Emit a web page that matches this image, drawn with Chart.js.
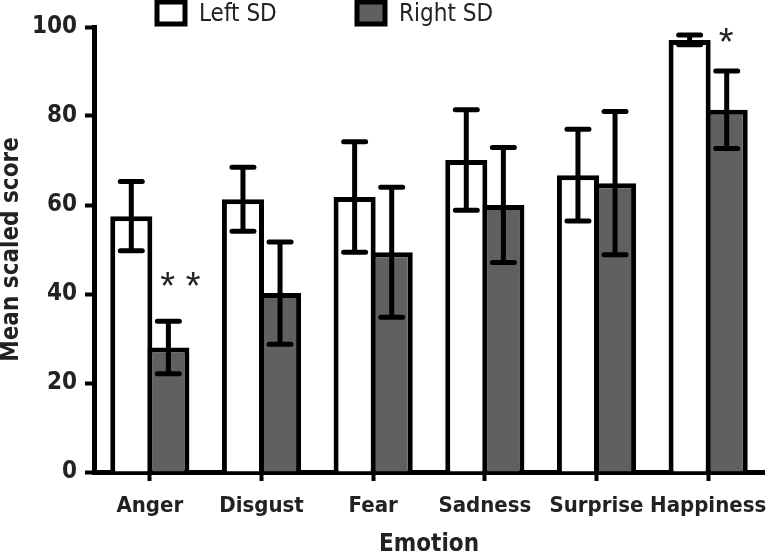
<!DOCTYPE html>
<html>
<head>
<meta charset="utf-8">
<script src="https://cdn.jsdelivr.net/npm/chart.js@4.4.1/dist/chart.umd.min.js"></script>
<style>
  html, body { margin: 0; padding: 0; background: #fff; }
  canvas { display: block; }
</style>
</head>
<body>
<canvas id="chart" width="771" height="557"></canvas>
<script>
// data
const emotions = ['Anger', 'Disgust', 'Fear', 'Sadness', 'Surprise', 'Happiness'];
const leftMeans = [57.5, 61.3, 61.8, 70.1, 66.7, 97.1];
const leftErrors = [7.8, 7.2, 12.4, 11.3, 10.3, 1.1];
const rightMeans = [28.0, 40.2, 49.4, 60.0, 64.9, 81.4];
const rightErrors = [5.9, 11.5, 14.6, 12.9, 16.1, 8.7];
const starLabels = ['* *', '', '', '', '', '*'];
const starValues = [42.5, null, null, null, null, 97.5];
const yTicks = [0, 20, 40, 60, 80, 100];

const FONT = "'Liberation Sans Narrow', 'DejaVu Sans Condensed', 'Liberation Sans', sans-serif";

// whiskers with caps, drawn from the y scale
const errorBars = {
    id: 'errorBars',
    afterDatasetsDraw(chart) {
        const ctx = chart.ctx;
        const yScale = chart.scales.y;
        ctx.save();
        ctx.strokeStyle = '#000';
        ctx.lineWidth = 5;
        ctx.lineCap = 'round';
        chart.data.datasets.forEach((ds, di) => {
            const meta = chart.getDatasetMeta(di);
            meta.data.forEach((bar, i) => {
                const top = yScale.getPixelForValue(ds.data[i] + ds.errors[i]);
                const bot = yScale.getPixelForValue(ds.data[i] - ds.errors[i]);
                const x = bar.x;
                ctx.beginPath();
                ctx.moveTo(x, top);
                ctx.lineTo(x, bot);
                ctx.moveTo(x - 11, top);
                ctx.lineTo(x + 11, top);
                ctx.moveTo(x - 11, bot);
                ctx.lineTo(x + 11, bot);
                ctx.stroke();
            });
        });
        ctx.restore();
    }
};

// significance stars above the right-side bars
const stars = {
    id: 'stars',
    afterDatasetsDraw(chart) {
        const ctx = chart.ctx;
        const meta = chart.getDatasetMeta(1);
        ctx.save();
        ctx.fillStyle = '#222';
        ctx.font = "38px 'Liberation Sans', sans-serif";
        ctx.textAlign = 'left';
        ctx.textBaseline = 'middle';
        starLabels.forEach((s, i) => {
            if (!s) return;
            const y = chart.scales.y.getPixelForValue(starValues[i]);
            ctx.fillText(s, meta.data[i].x - 8, y + 6);
        });
        ctx.restore();
    }
};

// legend at the top edge
const topLegend = {
    id: 'topLegend',
    afterDraw(chart) {
        const ctx = chart.ctx;
        const starts = [157, 357];
        ctx.save();
        ctx.font = '24px ' + FONT;
        ctx.textBaseline = 'middle';
        chart.data.datasets.forEach((ds, i) => {
            const x = starts[i];
            ctx.fillStyle = ds.backgroundColor;
            ctx.fillRect(x, 2, 28, 22);
            ctx.lineWidth = 5;
            ctx.strokeStyle = '#000';
            ctx.strokeRect(x, 2, 28, 22);
            ctx.fillStyle = '#222';
            ctx.fillText(ds.label, x + 42, 15);
        });
        ctx.restore();
    }
};

new Chart(document.getElementById('chart'), {
    type: 'bar',
    data: {
        labels: emotions,
        datasets: [
            {
                label: 'Left SD',
                data: leftMeans,
                errors: leftErrors,
                backgroundColor: '#ffffff',
                borderColor: '#000',
                borderWidth: 5,
                categoryPercentage: 0.664,
                barPercentage: 1.135
            },
            {
                label: 'Right SD',
                data: rightMeans,
                errors: rightErrors,
                backgroundColor: '#606060',
                borderColor: '#000',
                borderWidth: 5,
                categoryPercentage: 0.664,
                barPercentage: 1.135
            }
        ]
    },
    options: {
        responsive: false,
        animation: false,
        layout: { padding: { top: 27, right: 7, left: 0, bottom: 0 } },
        plugins: {
            legend: { display: false },
            tooltip: { enabled: false }
        },
        scales: {
            x: {
                z: 1,
                afterFit: s => {
                    s.height = 85;
                    s.paddingLeft = 0;
                    s.paddingRight = 0;
                },
                border: { display: true, color: '#000', width: 5 },
                grid: {
                    offset: false,
                    drawOnChartArea: false,
                    drawTicks: true,
                    tickLength: 9,
                    tickWidth: 4,
                    tickColor: '#000'
                },
                ticks: {
                    color: '#222',
                    padding: 12,
                    maxRotation: 0,
                    minRotation: 0,
                    autoSkip: false,
                    font: { family: FONT, size: 22, weight: 'bold' }
                },
                title: {
                    display: true,
                    text: 'Emotion',
                    color: '#222',
                    padding: 0,
                    font: { family: FONT, size: 24, weight: 'bold', lineHeight: 1 }
                }
            },
            y: {
                z: 1,
                min: 0,
                max: 100,
                afterFit: s => { s.width = 94; },
                afterBuildTicks: s => { s.ticks = yTicks.map(v => ({ value: v })); },
                border: { display: true, color: '#000', width: 5 },
                grid: {
                    drawOnChartArea: false,
                    drawTicks: true,
                    tickLength: 9,
                    tickWidth: 4,
                    tickColor: '#000'
                },
                ticks: {
                    color: '#222',
                    padding: 8,
                    font: { family: FONT, size: 24, weight: 'bold' }
                },
                title: {
                    display: true,
                    text: 'Mean scaled score',
                    color: '#222',
                    padding: 0,
                    font: { family: FONT, size: 24, weight: 'bold', lineHeight: 1 }
                }
            }
        }
    },
    plugins: [errorBars, stars, topLegend]
});
</script>
</body>
</html>
